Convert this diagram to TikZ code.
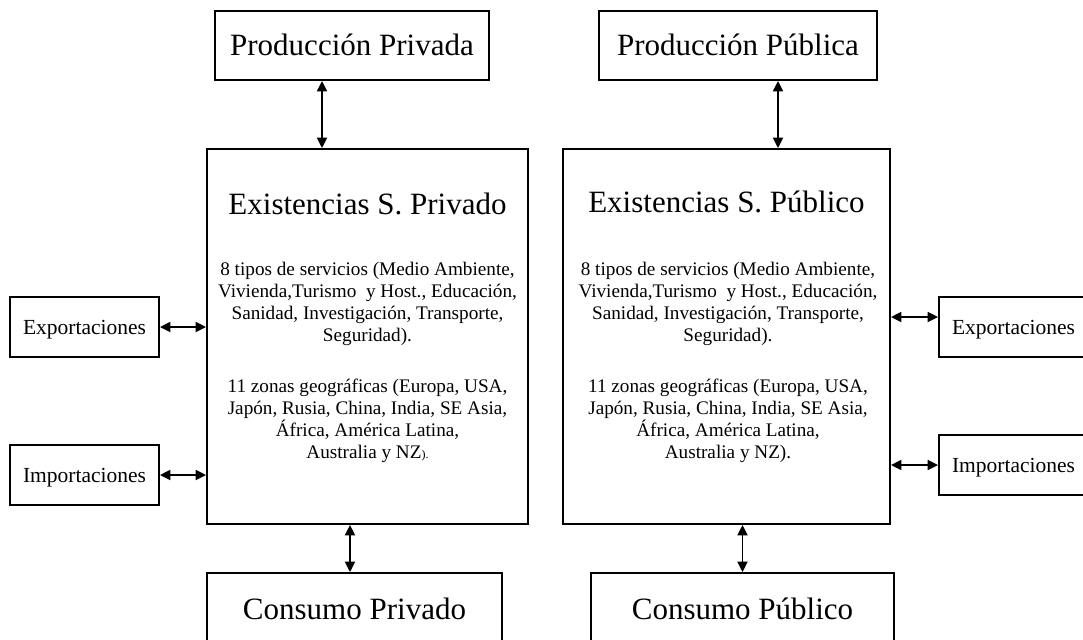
\documentclass[tikz,border=0pt]{standalone}
\usepackage{fontspec}
\setmainfont{Liberation Serif}
\usetikzlibrary{positioning,arrows.meta,calc}

\begin{document}
\begin{tikzpicture}[
    x=0.5pt, y=-0.5pt,
    box/.style={rectangle, draw, line width=0.95pt, inner sep=0pt, align=center},
    bigbox/.style={box, font=\fontsize{15.5}{18}\selectfont, text height=10.3pt, text depth=0pt, minimum height=34.5pt},
    sidebox/.style={box, font=\fontsize{10.75}{12}\selectfont, minimum width=74.5pt, minimum height=30pt, text height=7.1pt, text depth=0pt},
    stockbox/.style={box, minimum height=187.5pt},
    headtext/.style={font=\fontsize{15.5}{18}\selectfont, align=center, inner sep=0pt},
    bodytext/.style={font=\fontsize{9.6}{11}\selectfont, align=center, inner sep=0pt},
    biarrow/.style={{Triangle[length=5.2pt,width=5pt]}-{Triangle[length=5.2pt,width=5pt]}, line width=0.9pt}
]
\useasboundingbox (0,0) rectangle (1083,639);

% ===== PRODUCCION =====
\node[bigbox, minimum width=137pt] (prodPriv) at (352,45.5) {Producción Privada};
\node[bigbox, minimum width=139pt] (prodPub) at (738,45.5) {Producción Pública};

% ===== EXISTENCIAS =====
\node[stockbox, minimum width=160.5pt] (existPriv) at (367.5,336.5) {};
\node[stockbox, minimum width=163.5pt] (existPub) at (726.5,336.5) {};

\node[headtext] (privTitle) at ($(existPriv.north)+(0,56)$) {Existencias S. Privado};
\node[bodytext] (privSvc) at ($(existPriv.north)+(0,156)$) {8 tipos de servicios (Medio Ambiente,\\ Vivienda,Turismo\ \ y Host., Educación,\\ Sanidad, Investigación, Transporte,\\ Seguridad).};
\node[bodytext] (privZone) at ($(existPriv.north)+(0,273)$) {11 zonas geográficas (Europa, USA,\\ Japón, Rusia, China, India, SE Asia,\\ África, América Latina,\\ Australia y NZ{\fontsize{6}{7}\selectfont).}};

\node[headtext] (pubTitle) at ($(existPub.north)+(0,54)$) {Existencias S. Público};
\node[bodytext] (pubSvc) at ($(existPub.north)+(1.5,156)$) {8 tipos de servicios (Medio Ambiente,\\ Vivienda,Turismo\ \ y Host., Educación,\\ Sanidad, Investigación, Transporte,\\ Seguridad).};
\node[bodytext] (pubZone) at ($(existPub.north)+(1.5,273)$) {11 zonas geográficas (Europa, USA,\\ Japón, Rusia, China, India, SE Asia,\\ África, América Latina,\\ Australia y NZ).};

% ===== CONSUMO =====
\node[bigbox, minimum width=147.5pt, minimum height=36.5pt] (consPriv) at (354.5,609.5) {Consumo Privado};
\node[bigbox, minimum width=151.5pt, minimum height=36.5pt] (consPub) at (742.5,609.5) {Consumo Público};

% ===== COMERCIO EXTERIOR =====
\node[sidebox] (expPriv) at (84.5,327) {Exportaciones};
\node[sidebox] (impPriv) at (84.5,475) {Importaciones};
\node[sidebox] (expPub) at (1013.5,327) {Exportaciones};
\node[sidebox] (impPub) at (1013.5,465) {Importaciones};

% ===== ARROWS =====
\coordinate (privTop) at ($(prodPriv.south)+(-30,0)$);
\coordinate (pubTop) at ($(prodPub.south)+(40,0)$);
\coordinate (privBot) at ($(consPriv.north)+(-4.5,0)$);
\coordinate (pubExp) at ($(expPub.west)+(0,-10)$);

\draw[biarrow] (privTop) -- (privTop |- existPriv.north);
\draw[biarrow] (pubTop) -- (pubTop |- existPub.north);
\draw[biarrow] (privBot |- existPriv.south) -- (privBot);
\draw[biarrow] (existPub.south -| consPub.north) -- (consPub.north);

\draw[biarrow] (expPriv.east) -- (expPriv.east -| existPriv.west);
\draw[biarrow] (impPriv.east) -- (impPriv.east -| existPriv.west);
\draw[biarrow] (pubExp -| existPub.east) -- (pubExp);
\draw[biarrow] (impPub.west -| existPub.east) -- (impPub.west);

\end{tikzpicture}
\end{document}
